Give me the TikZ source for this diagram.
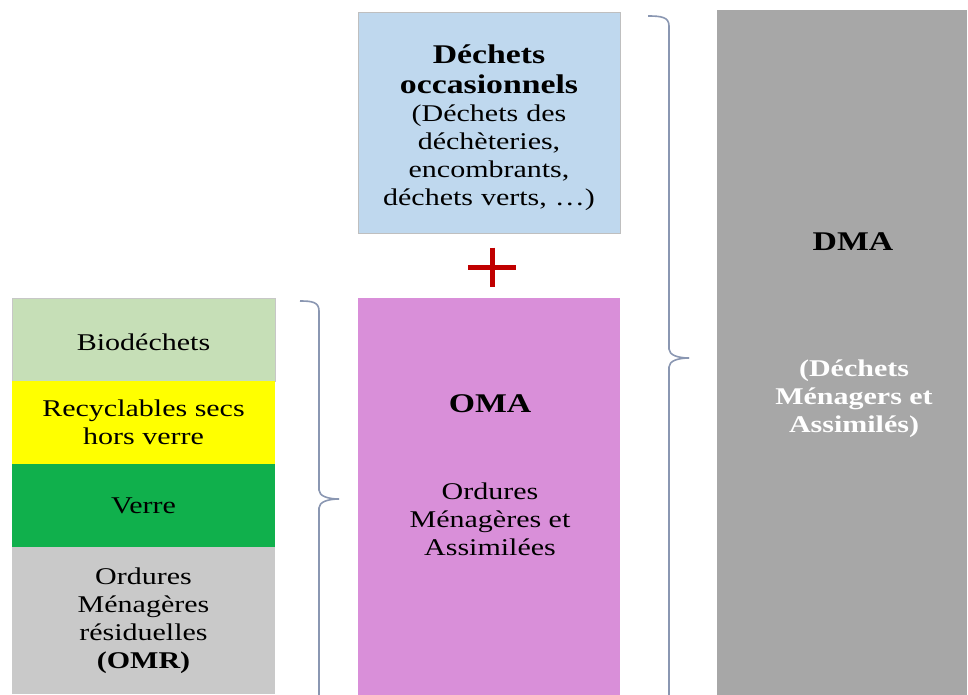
\documentclass[tikz,border=0pt]{standalone}
\usepackage{fontspec}
\setmainfont{Liberation Serif}[FakeStretch=1.25]
\definecolor{biogreen}{HTML}{C6DFB7}
\definecolor{recyellow}{HTML}{FFFF00}
\definecolor{verregreen}{HTML}{10B04C}
\definecolor{omrgray}{HTML}{C9C9C9}
\definecolor{occblue}{HTML}{BFD8EE}
\definecolor{omapink}{HTML}{D98FD9}
\definecolor{dmagray}{HTML}{A7A7A7}
\definecolor{plusred}{HTML}{C00000}
\definecolor{bracecol}{HTML}{8A97B2}
\newcommand{\regtext}{\fontsize{24}{28}\selectfont}
\newcommand{\titletext}{\fontsize{27}{30}\selectfont\bfseries}
\tikzset{
  box/.style={rectangle, inner sep=0pt, outer sep=0pt, align=center, font=\regtext},
  stackbox/.style={box, minimum width=263pt, minimum height=83pt},
  txt/.style={inner sep=0pt, align=center, font=\regtext},
  bracket/.style={draw=bracecol, line width=1.6pt},
  plusbar/.style={draw=plusred, line width=5pt}
}
\begin{document}
\begin{tikzpicture}[x=1pt,y=-1pt]
\useasboundingbox[fill=white] (0,0) rectangle (968,695);

% left stack
\node[stackbox, fill=biogreen, draw=black!22, line width=0.6pt] (bio) at (143.5,339.5) {};
\node[txt] (biotext) at (143.5,342.5) {Biodéchets};
\node[stackbox, fill=recyellow] (rec) at (143.5,422.5) {Recyclables secs\\hors verre};
\node[stackbox, fill=verregreen] (verre) at (143.5,505.5) {Verre};
\node[stackbox, fill=omrgray, minimum height=147pt] (omr) at (143.5,620.5)
  {Ordures\\Ménagères\\résiduelles\\\textbf{(OMR)}};

% occasional waste
\node[box, fill=occblue, draw=black!25, line width=0.6pt, minimum width=262pt, minimum height=221pt] (occ) at (489,122.5) {};
\node[txt, text width=255pt] (occtext) at (489,128)
  {{\titletext Déchets\\occasionnels\par}{\regtext (Déchets des\\déchèteries,\\encombrants,\\déchets verts, …)\par}};

% plus sign
\coordinate (plus) at (492,267);
\draw[plusbar] ([xshift=-24pt]plus) -- ([xshift=24pt]plus);
\draw[plusbar] ([yshift=19.5pt]plus) -- ([yshift=-19.5pt]plus);

% OMA
\node[box, fill=omapink, minimum width=262pt, minimum height=397pt] (oma) at (489,496.5) {};
\node[txt, font=\titletext, anchor=base] (omatitle) at (490,412) {OMA};
\node[txt] (omadesc) at (490,519) {Ordures\\Ménagères et\\Assimilées};

% DMA
\node[box, fill=dmagray, minimum width=250pt, minimum height=685pt] (dma) at (842,352.5) {};
\node[txt, font=\titletext, anchor=base] (dmatitle) at (853,250) {DMA};
\node[txt, text=white, font=\regtext\bfseries] (dmadesc) at (854,399) {(Déchets\\Ménagers et\\Assimilés)};

% braces
\coordinate (lbtop) at (300,301);
\coordinate (lbtip) at (339,499);
\coordinate (lbbot) at (319,695);
\draw[bracket] (lbtop) .. controls (312,301) and (319,302) .. (319,311) -- (319,490)
  .. controls (319,496) and (328,499) .. (lbtip);
\draw[bracket] (lbtip) .. controls (328,499) and (319,502) .. (319,508) -- (lbbot);

\coordinate (rbtop) at (648,16);
\coordinate (rbtip) at (689,358);
\coordinate (rbbot) at (669,695);
\draw[bracket] (rbtop) .. controls (661,16) and (669,17) .. (669,26) -- (669,349)
  .. controls (669,355) and (678,358) .. (rbtip);
\draw[bracket] (rbtip) .. controls (678,358) and (669,361) .. (669,367) -- (rbbot);
\end{tikzpicture}
\end{document}
